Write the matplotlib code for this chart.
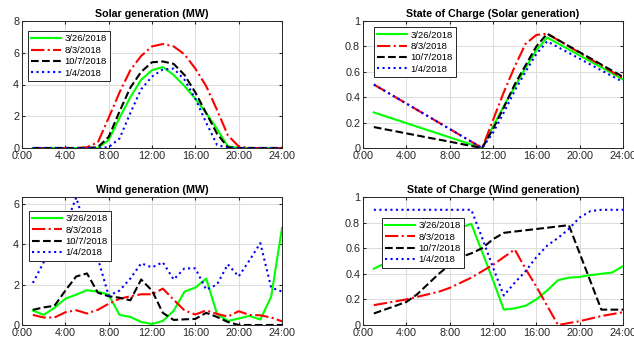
import numpy as np
import matplotlib
matplotlib.use("Agg")
import matplotlib.pyplot as plt

plt.rcParams['font.family'] = ['Liberation Sans', 'DejaVu Sans']

hours = list(range(1, 25))
dates = ['3/26/2018', '8/3/2018', '10/7/2018', '1/4/2018']

# solar generation (MW)
solar_0326 = [0, 0, 0, 0, 0, 0, 0, 0.5, 1.9, 3.2, 4.3, 4.9, 5.1, 4.6, 3.9, 3.1, 2.2, 1.2, 0.1, 0, 0, 0, 0, 0]
solar_0803 = [0, 0, 0, 0, 0, 0.05, 0.35, 1.9, 3.5, 4.9, 5.8, 6.4, 6.55, 6.4, 5.9, 5.0, 3.9, 2.4, 0.8, 0.1, 0, 0, 0, 0]
solar_1007 = [0, 0, 0, 0, 0, 0, 0.05, 0.7, 2.3, 3.8, 4.8, 5.4, 5.45, 5.3, 4.6, 3.5, 2.2, 0.9, 0.05, 0, 0, 0, 0, 0]
solar_0104 = [0, 0, 0, 0, 0, 0, 0, 0.05, 0.6, 2.2, 3.7, 4.5, 4.95, 5.0, 4.3, 3.1, 1.6, 0.2, 0, 0, 0, 0, 0, 0]

# state of charge, solar case
soc_s_0326 = [0.28, 0.252, 0.224, 0.196, 0.168, 0.14, 0.112, 0.084, 0.056, 0.028, 0, 0.17, 0.33, 0.48, 0.63, 0.77, 0.87,
              0.823, 0.776, 0.729, 0.682, 0.635, 0.588, 0.54]
soc_s_0803 = [0.5, 0.45, 0.4, 0.35, 0.3, 0.25, 0.2, 0.15, 0.1, 0.05, 0, 0.22, 0.44, 0.64, 0.82, 0.89, 0.9,
              0.85, 0.8, 0.75, 0.7, 0.65, 0.6, 0.55]
soc_s_1007 = [0.165, 0.148, 0.132, 0.115, 0.099, 0.082, 0.066, 0.05, 0.033, 0.016, 0, 0.15, 0.32, 0.5, 0.65, 0.8, 0.9,
              0.851, 0.803, 0.754, 0.706, 0.657, 0.609, 0.56]
soc_s_0104 = [0.5, 0.45, 0.4, 0.35, 0.3, 0.25, 0.2, 0.15, 0.1, 0.05, 0, 0.12, 0.28, 0.45, 0.6, 0.74, 0.84,
              0.794, 0.749, 0.703, 0.657, 0.611, 0.566, 0.52]

# wind generation (MW)
wind_0326 = [0.72, 0.5, 0.85, 1.3, 1.5, 1.72, 1.65, 1.5, 0.5, 0.4, 0.15, 0.05, 0.2, 0.7, 1.65, 1.85, 2.3, 0.55,
             0.2, 0.32, 0.45, 0.27, 1.4, 4.8]
wind_0803 = [0.5, 0.37, 0.37, 0.63, 0.73, 0.57, 0.75, 1.05, 1.3, 1.42, 1.52, 1.52, 1.8, 1.25, 0.72, 0.52, 0.72, 0.55,
             0.42, 0.68, 0.5, 0.48, 0.37, 0.18]
wind_1007 = [0.75, 0.87, 0.95, 1.7, 2.4, 2.55, 1.6, 1.42, 1.35, 1.22, 2.25, 1.7, 0.6, 0.25, 0.28, 0.3, 0.6, 0.4,
             0.15, 0, 0, 0, 0, 0]
wind_0104 = [2.08, 3.1, 3.9, 4.9, 6.3, 4.6, 3.3, 1.45, 1.7, 2.3, 3.05, 2.85, 3.1, 2.25, 2.8, 2.8, 1.75, 2.0,
             3.0, 2.4, 3.2, 4.05, 1.85, 1.65]

# state of charge, wind case
soc_w_0326 = [0.44, 0.48, 0.52, 0.56, 0.6, 0.64, 0.68, 0.72, 0.76, 0.79, 0.57, 0.35, 0.12, 0.13, 0.15, 0.2, 0.27,
              0.35, 0.37, 0.375, 0.39, 0.4, 0.41, 0.46]
soc_w_0803 = [0.155, 0.17, 0.185, 0.2, 0.22, 0.24, 0.26, 0.29, 0.33, 0.37, 0.42, 0.47, 0.53, 0.59, 0.44, 0.3, 0.15,
              0, 0.015, 0.03, 0.05, 0.07, 0.085, 0.1]
soc_w_1007 = [0.09, 0.12, 0.15, 0.18, 0.24, 0.32, 0.4, 0.47, 0.53, 0.56, 0.6, 0.67, 0.72, 0.73, 0.74, 0.75, 0.76,
              0.77, 0.78, 0.56, 0.34, 0.12, 0.12, 0.12]
soc_w_0104 = [0.9, 0.9, 0.9, 0.9, 0.9, 0.9, 0.9, 0.9, 0.9, 0.9, 0.68, 0.45, 0.23, 0.33, 0.42, 0.53, 0.62, 0.68,
              0.75, 0.84, 0.89, 0.9, 0.9, 0.9]

xtick_vals = [0, 4, 8, 12, 16, 20, 24]
xtick_labels = ['0:00', '4:00', '8:00', '12:00', '16:00', '20:00', '24:00']

colors = ['#00ff00', '#ff0000', '#000000', '#0000ff']
styles = ['-', '-.', '--', ':']


def draw(ax, series, title, ylim, yticks, ytlabels, leg_anchor):
    for s, c, ls, lab in zip(series, colors, styles, dates):
        ax.plot(hours, s, color=c, linestyle=ls, linewidth=1.5, label=lab)
    ax.set_xlim(0, 24)
    ax.set_ylim(*ylim)
    ax.set_xticks(xtick_vals)
    ax.set_xticklabels(xtick_labels)
    ax.set_yticks(yticks)
    ax.set_yticklabels(ytlabels)
    ax.grid(True, color='#dcdcdc', linewidth=0.7)
    ax.set_axisbelow(True)
    ax.tick_params(direction='in', length=2.5, labelsize=7.8, top=True, right=True,
                   color='#262626', labelcolor='#262626', pad=2)
    for sp in ax.spines.values():
        sp.set_color('#262626')
        sp.set_linewidth(0.7)
    ax.set_title(title, fontsize=7.7, fontweight='bold', pad=3)
    leg = ax.legend(loc='upper left', bbox_to_anchor=leg_anchor, fontsize=6.8, frameon=True,
                    fancybox=False, framealpha=1, edgecolor='#262626', handlelength=3.1,
                    labelspacing=0.25, borderpad=0.35, handletextpad=0.4, borderaxespad=0)
    leg.get_frame().set_linewidth(0.7)


fig = plt.figure(figsize=(6.34, 3.46), dpi=100)
W, H = 634, 346
ax1 = fig.add_axes([22 / W, 1 - 148 / H, 260 / W, 127 / H])
ax2 = fig.add_axes([363 / W, 1 - 148 / H, 260 / W, 127 / H])
ax3 = fig.add_axes([22 / W, 1 - 325 / H, 260 / W, 128 / H])
ax4 = fig.add_axes([363 / W, 1 - 325 / H, 260 / W, 128 / H])

soc_ticks = [0, 0.2, 0.4, 0.6, 0.8, 1]
soc_labels = ['0', '0.2', '0.4', '0.6', '0.8', '1']

draw(ax1, [solar_0326, solar_0803, solar_1007, solar_0104], 'Solar generation (MW)',
     (0, 8), [0, 2, 4, 6, 8], ['0', '2', '4', '6', '8'], (0.023, 0.92))
draw(ax2, [soc_s_0326, soc_s_0803, soc_s_1007, soc_s_0104], 'State of Charge (Solar generation)',
     (0, 1), soc_ticks, soc_labels, (0.042, 0.95))
draw(ax3, [wind_0326, wind_0803, wind_1007, wind_0104], 'Wind generation (MW)',
     (0, 6.33), [0, 2, 4, 6], ['0', '2', '4', '6'], (0.027, 0.89))
draw(ax4, [soc_w_0326, soc_w_0803, soc_w_1007, soc_w_0104], 'State of Charge (Wind generation)',
     (0, 1), soc_ticks, soc_labels, (0.073, 0.836))

fig.savefig('out.png', dpi=100)
